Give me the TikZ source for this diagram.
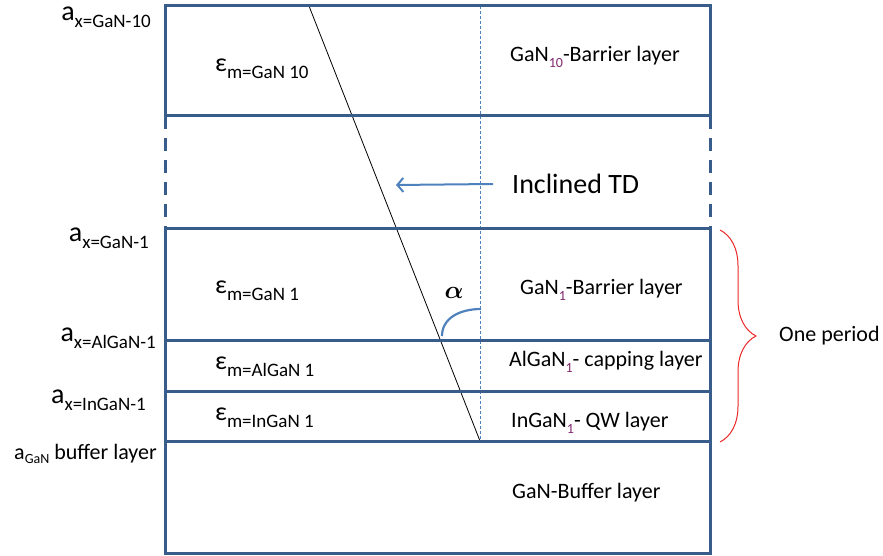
\documentclass[tikz,border=0pt]{standalone}
\usepackage{fontspec}
\setmainfont{Carlito}
\usepackage{amsmath}
\usepackage{xcolor}
\usetikzlibrary{arrows.meta,decorations.pathreplacing}

\definecolor{layerblue}{RGB}{56,93,138}
\definecolor{lineblue}{RGB}{79,129,189}
\definecolor{subpurple}{RGB}{128,40,110}
\definecolor{bracered}{RGB}{235,40,40}

\newcommand\lsub[2]{\raisebox{-#1}{\fontsize{19}{19}\selectfont #2}}
\newcommand\nsub[1]{\raisebox{-0.25em}{\fontsize{14}{14}\selectfont\color{subpurple}#1}}

\begin{document}
\begin{tikzpicture}[x=1pt,y=-1pt,
  layer/.style={draw=layerblue,line width=3pt},
  gap/.style={draw=layerblue,line width=3pt,dash pattern=on 13pt off 9pt},
  latt/.style={anchor=east,inner sep=0pt,font=\fontsize{28}{30}\selectfont},
  strain/.style={anchor=west,inner sep=0pt,font=\fontsize{26}{28}\selectfont},
  lname/.style={anchor=west,inner sep=0pt,font=\fontsize{22}{24}\selectfont}]
\useasboundingbox (0,0) rectangle (883,556);

\coordinate (l0) at (165,6);
\coordinate (r0) at (710,6);
\coordinate (l1) at (165,116);
\coordinate (r1) at (710,116);
\coordinate (l2) at (165,228);
\coordinate (r2) at (710,228);
\coordinate (l3) at (165,340);
\coordinate (r3) at (710,340);
\coordinate (l4) at (165,391);
\coordinate (r4) at (710,391);
\coordinate (l5) at (165,441);
\coordinate (r5) at (710,441);
\coordinate (l6) at (165,553);
\coordinate (r6) at (710,553);

\coordinate (c0) at (480,6);
\coordinate (c5) at (480,441);
\coordinate (td0) at (309,6);

\draw[lineblue,line width=0.7pt,dash pattern=on 3pt off 2pt] (c0) -- (c5);
\draw[black,line width=0.8pt] (td0) -- (c5);

\draw[layer] (l0) rectangle (r1);
\draw[gap] (l1) -- (l2);
\draw[gap] (r1) -- (r2);
\draw[layer] (l2) rectangle (r6);
\draw[layer] (l3) -- (r3);
\draw[layer] (l4) -- (r4);
\draw[layer] (l5) -- (r5);

\node[latt] (a10) at (151,17) {a\lsub{7pt}{x=GaN-10}};
\node[latt] (a1) at (149,238) {a\lsub{7pt}{x=GaN-1}};
\node[latt] (aal) at (156,338) {a\lsub{7pt}{x=AlGaN-1}};
\node[latt] (ain) at (146,400) {a\lsub{7pt}{x=InGaN-1}};
\node[anchor=east,inner sep=0pt,font=\fontsize{22}{24}\selectfont] (abuf) at (157,454)
  {a{\fontsize{14}{14}\selectfont\raisebox{-4pt}{GaN}} buffer layer};

\node[strain] (e10) at (215,69) {ε\lsub{7pt}{m=GaN 10}};
\node[strain] (e1) at (215,291) {ε\lsub{7pt}{m=GaN 1}};
\node[strain] (eal) at (215,367) {ε\lsub{7pt}{m=AlGaN 1}};
\node[strain] (ein) at (215,418) {ε\lsub{7pt}{m=InGaN 1}};

\node[lname] (n10) at (510,57) {GaN\nsub{10}-Barrier layer};
\node[lname] (n1) at (520,290) {GaN\nsub{1}-Barrier layer};
\node[lname] (nal) at (509,362) {AlGaN\nsub{1}- capping layer};
\node[lname] (nin) at (511,423) {InGaN\nsub{1}- QW layer};
\node[lname] (nbuf) at (512,493) {GaN-Buffer layer};

\node[anchor=west,inner sep=0pt,font=\fontsize{28}{30}\selectfont] (incl) at (512,184) {Inclined TD};
\coordinate (tip) at (396,185);
\draw[lineblue,line width=2pt,-{Straight Barb[length=6pt,width=14pt]}] ([xshift=-19pt]incl.west) -- (tip);

\node[inner sep=0pt,font=\fontsize{30}{32}\selectfont] (alpha) at (454,293) {$\boldsymbol{\alpha}$};
\coordinate (arcA) at (481,309);
\coordinate (arcB) at (442,336);
\draw[lineblue,line width=2.2pt] (arcA) .. controls (460,309) and (442,318) .. (arcB);

\coordinate (bt) at (720,230);
\coordinate (bb) at (720,442);
\draw[bracered,line width=1pt,decorate,decoration={brace,amplitude=36pt}] (bt) -- (bb);
\node[anchor=west,inner sep=0pt,font=\fontsize{22}{24}\selectfont] (period) at (779,336) {One period};

\end{tikzpicture}
\end{document}
